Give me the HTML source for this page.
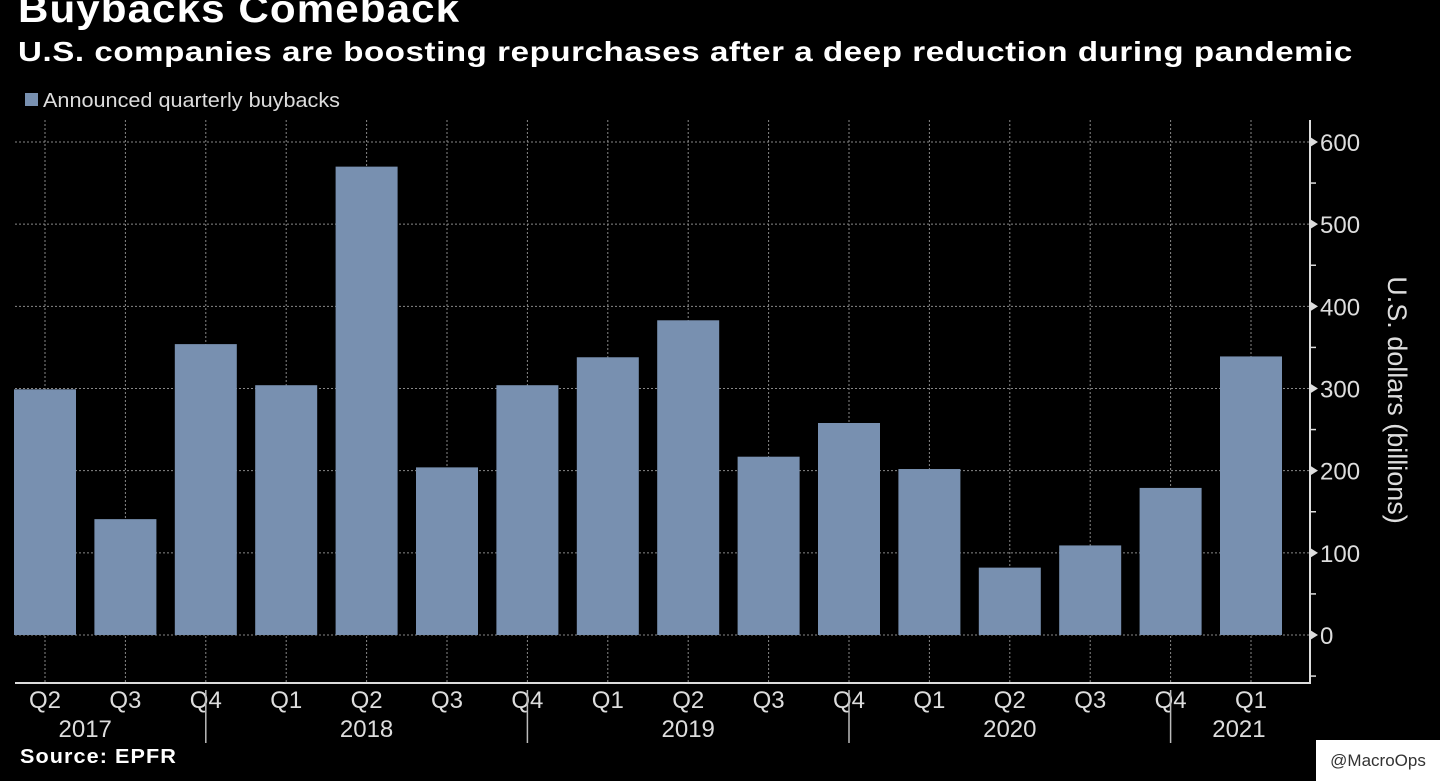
<!DOCTYPE html>
<html><head><meta charset="utf-8"><style>
body{margin:0;background:#000;width:1440px;height:781px;overflow:hidden;font-family:"Liberation Sans",sans-serif;color:#fff}
.t{position:absolute;left:18px;font-weight:bold;white-space:nowrap;transform-origin:0 0}
</style></head><body>
<div class="t" style="top:-12px;font-size:39px;letter-spacing:1px;transform:scaleX(1.08)">Buybacks Comeback</div>
<div class="t" style="top:36px;font-size:28px;letter-spacing:0.5px;transform:scaleX(1.18)">U.S. companies are boosting repurchases after a deep reduction during pandemic</div>
<div class="t" style="top:746px;font-size:20px;left:20px;letter-spacing:1px;transform:scaleX(1.08)">Source: EPFR</div>
<div style="position:absolute;left:1316px;top:740px;width:124px;height:41px;background:#fff;color:#333;font-size:17px;line-height:41px;text-align:center">@MacroOps</div>
<svg id="c" width="1440" height="781" style="position:absolute;left:0;top:0"></svg>
<script>
const categories=["Q2","Q3","Q4","Q1","Q2","Q3","Q4","Q1","Q2","Q3","Q4","Q1","Q2","Q3","Q4","Q1"];
const years=["2017","2018","2019","2020","2021"];
const yearCenters=[0.5,4,8,12,14.85];
const buybacks=[299,141,354,304,570,204,304,338,383,217,258,202,82,109,179,339];
const yTicks=[0,100,200,300,400,500,600];
const svg=document.getElementById('c');const NS='http://www.w3.org/2000/svg';
function mk(t,a,p){const e=document.createElementNS(NS,t);for(const k in a)e.setAttribute(k,a[k]);(p||svg).appendChild(e);return e;}
const x=i=>45+i*80.4;const y=v=>635-v*0.8217;
let lg=mk('rect',{x:25,y:93,width:13,height:13,fill:'#7890b0'});

let lt=mk('text',{x:43,y:107,fill:'#ddd','font-size':20,textLength:297,lengthAdjust:'spacingAndGlyphs'});lt.textContent='Announced quarterly buybacks';

yTicks.forEach(v=>{let g=mk('line',{x1:15,x2:1310,y1:y(v),y2:y(v),stroke:'#888','stroke-dasharray':'2,2','stroke-width':1});});
categories.forEach((c,i)=>{let g=mk('line',{x1:x(i),x2:x(i),y1:120,y2:683,stroke:'#888','stroke-dasharray':'2,2','stroke-width':1});});
buybacks.forEach((v,i)=>{let r=mk('rect',{x:x(i)-31,y:y(v),width:62,height:y(0)-y(v),fill:'#7890b0'});});
let ax=mk('path',{d:'M15 683H1310V120',stroke:'#ddd',fill:'none','stroke-width':2});
yTicks.forEach(v=>{mk('path',{d:`M1310 ${y(v)-5}L1318 ${y(v)}L1310 ${y(v)+5}Z`,fill:'#ddd'});
let t=mk('text',{x:1320,y:y(v)+9,fill:'#ddd','font-size':24});t.textContent=v;});
for(let v=-50;v<650;v+=100){mk('line',{x1:1310,x2:1316,y1:y(v),y2:y(v),stroke:'#ddd','stroke-width':1.5});}
categories.forEach((c,i)=>{let t=mk('text',{x:x(i),y:708,fill:'#ddd','font-size':24,'text-anchor':'middle'});t.textContent=c;});
years.forEach((yr,i)=>{let t=mk('text',{x:x(yearCenters[i]),y:737,fill:'#ddd','font-size':24,'text-anchor':'middle'});t.textContent=yr;});
[2,6,10,14].forEach(i=>mk('line',{x1:x(i),x2:x(i),y1:690,y2:743,stroke:'#bbb','stroke-width':1.5}));
let yt=mk('text',{x:1388,y:400,fill:'#ddd','font-size':27,'text-anchor':'middle',transform:'rotate(90 1388 400)'});yt.textContent='U.S. dollars (billions)';

</script>
</body></html>
